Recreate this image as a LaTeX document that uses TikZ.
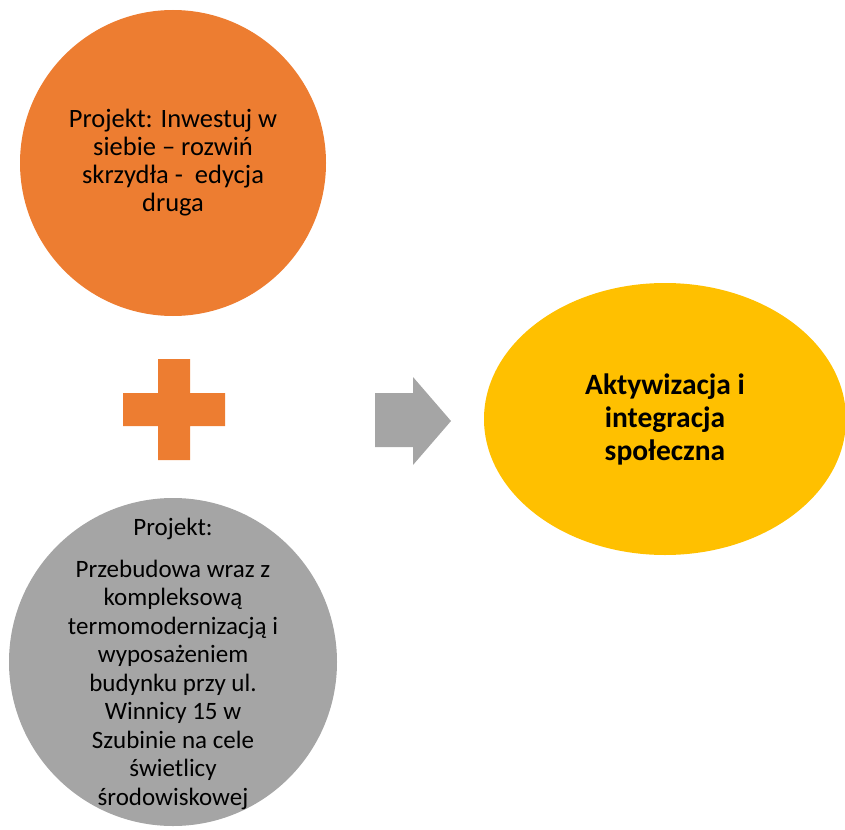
\documentclass[tikz,border=0pt]{standalone}
\usepackage{fontspec}
\setmainfont{Carlito}
\usetikzlibrary{shapes.geometric}
\definecolor{orangeA}{HTML}{ED7D31}
\definecolor{grayA}{HTML}{A5A5A5}
\definecolor{goldA}{HTML}{FFC000}
\tikzset{
    blob/.style={circle, inner sep=0pt},
    top txt/.style={align=center, font=\fontsize{26.5}{28}\selectfont},
    low txt/.style={align=center, font=\fontsize{25}{28.5}\selectfont},
    big txt/.style={align=center, font=\fontsize{29.5}{33}\selectfont\bfseries}
}
\begin{document}
\begin{tikzpicture}[x=1pt, y=-1pt]
    \useasboundingbox (0,0) rectangle (845,829);
    \node (inw) [blob, fill=orangeA, minimum size=306pt] at (173,163) {};
    \node (szu) [blob, fill=grayA, minimum size=328pt] at (173,662) {};
    \node (akt) [ellipse, inner sep=0pt, fill=goldA, minimum width=362pt, minimum height=272pt] at (665,419) {};

    \node (inwt) [top txt] at (inw) {Projekt: Inwestuj w\\siebie -- rozwiń\\skrzydła -\ \ edycja\\druga};
    \node (szut) [low txt] at (173,664) {Projekt:\\[13pt]Przebudowa wraz z\\kompleksową\\termomodernizacją i\\wyposażeniem\\budynku przy ul.\\Winnicy 15 w\\Szubinie na cele\\świetlicy\\środowiskowej};
    \node (aktt) [big txt] at (akt) {Aktywizacja i\\integracja\\społeczna};

    % plus sign
    \fill [orangeA] (158,359) -- (190,359) -- (190,393) -- (225,393) -- (225,426) -- (190,426)
        -- (190,460) -- (158,460) -- (158,426) -- (123,426) -- (123,393) -- (158,393) -- cycle;
    % block arrow
    \fill [grayA] (375,393) -- (413,393) -- (413,377) -- (451,421) -- (413,465) -- (413,447)
        -- (375,447) -- cycle;
\end{tikzpicture}
\end{document}
